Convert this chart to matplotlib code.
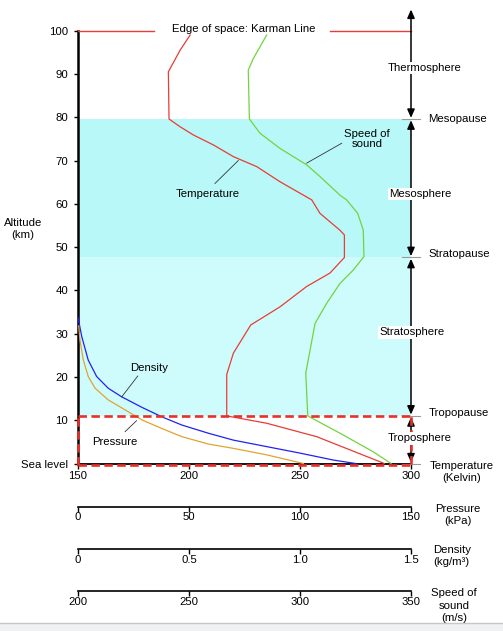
import matplotlib
matplotlib.use("Agg")
import matplotlib.pyplot as plt
from matplotlib.patches import Rectangle, FancyArrowPatch
from matplotlib.lines import Line2D

FS = 8.2
plt.rcParams['font.family'] = ['Liberation Sans', 'DejaVu Sans']
plt.rcParams['font.size'] = FS

# ---------------- data ----------------
temp_alt = [0, 6.2, 9.3, 11.0, 20.6, 25.5, 32.0, 36.2, 40.9, 44.0, 47.6, 52.8, 53.9,
            57.8, 60.9, 65.1, 68.6, 70.9, 73.6, 75.9, 77.8, 79.6, 90.5, 95.5, 99.0]
temp_K = [288, 257.5, 235, 217, 217, 220, 227.8, 241, 253, 263.5, 270, 270, 268,
          259, 255.3, 241, 230.5, 220, 211, 202, 196, 191, 190.7, 196, 200.5]

sos_alt = [0, 2.7, 7.0, 11.0, 20.9, 32.4, 37.0, 41.6, 44.7, 47.8, 53.9, 57.8, 60.9,
           62.0, 66.3, 69.0, 72.8, 76.3, 79.6, 90.9, 93.6, 99.0]
sos = [341, 333, 318, 303.5, 302.6, 306.8, 312, 318, 324, 328.8, 328.5, 326, 321,
       318, 309, 303, 291, 282, 277.2, 276.7, 279, 285]

dens_alt = [0, 0.8, 2.4, 3.9, 5.4, 7.0, 8.9, 10.8, 13.0, 15.4, 17.4, 20.1, 23.9, 29.3, 33.8]
dens = [1.25, 1.15, 1.0, 0.85, 0.70, 0.587, 0.467, 0.377, 0.287, 0.197, 0.136, 0.084,
        0.046, 0.017, 0.0]

pres_alt = [0, 2.0, 3.5, 4.5, 6.2, 8.1, 10.1, 12.4, 14.7, 17.4, 20.1, 23.9, 28.5, 31.8]
pres = [101.5, 85, 70, 58.7, 46.8, 37.7, 28.7, 21.2, 13.6, 7.7, 4.6, 2.4, 0.9, 0.3]

alt_ticks = [0, 10, 20, 30, 40, 50, 60, 70, 80, 90, 100]
alt_labels = ['Sea level', '10', '20', '30', '40', '50', '60', '70', '80', '90', '100']
temp_ticks = [150, 200, 250, 300]
pres_ticks = [0, 50, 100, 150]
dens_ticks = [0, 0.5, 1.0, 1.5]
dens_labels = ['0', '0.5', '1.0', '1.5']
sos_ticks = [200, 250, 300, 350]

tropopause = 11.0
stratopause = 47.6
mesopause = 79.6
karman = 100.0

# ---------------- figure ----------------
W_PX, H_PX = 503, 631
fig = plt.figure(figsize=(W_PX / 100, H_PX / 100), dpi=100)

def fx(px):
    return px / W_PX

def fy(py):
    return 1 - py / H_PX

L = fx(78)
Wd = fx(411) - fx(78)
B = fy(463.5)
Ht = fy(30.7) - fy(463.5)

ax = fig.add_axes([L, B, Wd, Ht])
ax.set_xlim(150, 300)
ax.set_ylim(0, 100)
ax.patch.set_visible(False)
for s in ['top', 'right']:
    ax.spines[s].set_visible(False)
ax.spines['left'].set_linewidth(1.8)
ax.spines['bottom'].set_linewidth(1.3)
ax.set_yticks(alt_ticks, alt_labels)
ax.set_xticks(temp_ticks)
ax.tick_params(axis='y', direction='out', length=3, width=1, pad=4, labelsize=FS)
ax.tick_params(axis='x', direction='out', length=3.5, width=1, pad=2.2, labelsize=FS)

# shaded layers
ax.axhspan(tropopause, stratopause, color='#cefcfc', zorder=0, lw=0)
ax.axhspan(stratopause, mesopause, color='#b9f8f8', zorder=0, lw=0)

RED = '#e83c34'
GREEN = '#72d43c'
BLUE = '#2222f0'
ORANGE = '#e2a330'

ax.plot(temp_K, temp_alt, color=RED, lw=0.9, zorder=3)

axS = ax.twiny()
axS.set_xlim(200, 350)
axS.axis('off')
axS.plot(sos, sos_alt, color=GREEN, lw=0.9, zorder=3)

axD = ax.twiny()
axD.set_xlim(0, 1.5)
axD.axis('off')
axD.plot(dens, dens_alt, color=BLUE, lw=0.9, zorder=3)

axP = ax.twiny()
axP.set_xlim(0, 150)
axP.axis('off')
axP.plot(pres, pres_alt, color=ORANGE, lw=0.9, zorder=3)

# annotation layer on top
axA = ax.twiny()
axA.set_xlim(150, 300)
axA.set_ylim(0, 100)
axA.axis('off')

# Karman line
axA.plot([150, 184.2], [karman, karman], color=RED, lw=1.0, clip_on=False)
axA.plot([263.5, 300], [karman, karman], color=RED, lw=1.0, clip_on=False)
axA.text(224.6, karman + 0.3, 'Edge of space: Karman Line', ha='center', va='center')

# troposphere red dashed box
dash_kw = dict(color='#e8302a', lw=1.9, dashes=(3.2, 1.7), clip_on=False, zorder=6)
axA.plot([150, 300], [tropopause, tropopause], **dash_kw)
axA.plot([150, 300], [-0.35, -0.35], **dash_kw)
axA.plot([150, 150], [-0.35, tropopause], **dash_kw)

# boundary ticks (gray)
for b in [mesopause, stratopause, tropopause, 0]:
    axA.plot([295.8, 304.1], [b, b], color='#9a9a9a', lw=0.8, clip_on=False, zorder=4)

# arrows
arrow_segs = [(mesopause + 0.25, 104.9), (stratopause + 0.3, mesopause - 0.3),
              (tropopause + 0.3, stratopause - 0.3), (0.25, tropopause - 0.3)]
for y0, y1 in arrow_segs:
    arr = FancyArrowPatch((300, y0), (300, y1),
                          arrowstyle='<|-|>,head_length=0.5,head_width=0.22',
                          mutation_scale=10, color='black', lw=1.1,
                          shrinkA=0, shrinkB=0, clip_on=False, zorder=5)
    axA.add_patch(arr)
axA.plot([300, 300], [0, tropopause], **dash_kw)

# layer labels
box = dict(fc='white', ec='none', pad=0.8)
axA.text(306.3, 91.3, 'Thermosphere', ha='center', va='center', bbox=box, zorder=7)
axA.text(304.1, 62.2, 'Mesosphere', ha='center', va='center', bbox=box, zorder=7)
axA.text(300.3, 30.3, 'Stratosphere', ha='center', va='center', bbox=box, zorder=7)
axA.text(304.1, 5.8, 'Troposphere', ha='center', va='center', bbox=box, zorder=7)
axA.text(307.8, 79.6, 'Mesopause', ha='left', va='center')
axA.text(307.8, 48.4, 'Stratopause', ha='left', va='center')
axA.text(307.8, 11.7, 'Tropopause', ha='left', va='center')
axA.text(322.7, -1.9, 'Temperature\n(Kelvin)', ha='center', va='center', linespacing=1.3)
axA.text(125.3, 54.25, 'Altitude\n(km)', ha='center', va='center', linespacing=1.25)

# curve labels with leader lines
lead_kw = dict(color='#333333', lw=0.6, zorder=4)
axA.text(208.6, 62.3, 'Temperature', ha='center', va='center')
axA.plot([211.7, 222.2], [64.7, 70.0], **lead_kw)
axA.text(280.1, 75.0, 'Speed of\nsound', ha='center', va='center', linespacing=1.1)
axA.plot([268.8, 253.0], [74.0, 69.4], **lead_kw)
axA.text(182.2, 22.0, 'Density', ha='center', va='center')
axA.plot([176.9, 169.7], [20.2, 15.4], **lead_kw)
axA.text(166.4, 5.0, 'Pressure', ha='center', va='center')
axA.plot([171.2, 176.4], [7.35, 9.9], **lead_kw)

# ---------------- extra scales ----------------
def scale_axis(ypix, lo, hi, ticks, labels):
    a = fig.add_axes([L, fy(ypix), Wd, 0.0001])
    a.set_xlim(lo, hi)
    a.set_ylim(0, 1)
    for s in ['top', 'left', 'right']:
        a.spines[s].set_visible(False)
    a.spines['bottom'].set_linewidth(1.2)
    a.set_yticks([])
    a.set_xticks(ticks, labels)
    a.tick_params(axis='x', direction='out', length=3.5, width=1, pad=0.5, labelsize=FS)
    a.patch.set_visible(False)
    return a

scale_axis(506.7, 0, 150, pres_ticks, [str(t) for t in pres_ticks])
scale_axis(549.0, 0, 1.5, dens_ticks, dens_labels)
scale_axis(591.0, 200, 350, sos_ticks, [str(t) for t in sos_ticks])

fig.text(fx(457.7), fy(515), 'Pressure\n(kPa)', ha='center', va='center', linespacing=1.35)
fig.text(fx(451.7), fy(556), 'Density\n(kg/m³)', ha='center', va='center', linespacing=1.3)
fig.text(fx(454.3), fy(605.8), 'Speed of\nsound\n(m/s)', ha='center', va='center', linespacing=1.3)

# bottom gray strip
fig.patches.append(Rectangle((0, 0), 1, fy(623), transform=fig.transFigure,
                             fc='#f0f1f2', ec='none', zorder=-1))
fig.lines.append(Line2D([0, 1], [fy(623), fy(623)], transform=fig.transFigure,
                        color='#c4c8cc', lw=1.0))

fig.savefig('out.png', dpi=100)
